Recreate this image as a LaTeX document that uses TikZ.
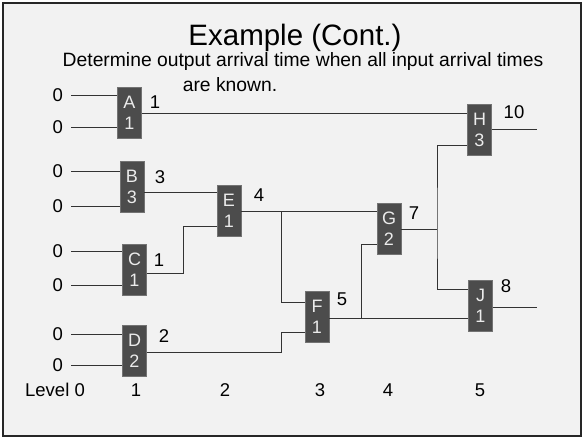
\documentclass[tikz,border=0pt]{standalone}
\usepackage{fontspec}
\setmainfont{Liberation Sans}
\begin{document}
\begin{tikzpicture}[x=1pt,y=-1pt,
  wire/.style={draw=black!80, line width=0.8pt},
  gate/.style={rectangle, fill=black!70, draw=black!55, line width=0.6pt,
    minimum width=24pt, minimum height=51pt, inner sep=0pt, align=center,
    text=white!92!black, font=\fontsize{18}{21}\selectfont},
  lbl/.style={inner sep=0pt, font=\fontsize{18.5}{21}\selectfont},
  inlbl/.style={inner sep=0pt, anchor=east, font=\fontsize{18.5}{21}\selectfont}]
\useasboundingbox (0,0) rectangle (584,439);
\fill[white] (0,0) rectangle (584,439);
\draw[fill=black!5, draw=black!85, line width=1.8pt] (3,3) rectangle (581,436);

% headings
\node[inner sep=0pt, font=\fontsize{29.5}{33}\selectfont] (title) at (295,38) {Example (Cont.)};
\node[inner sep=0pt, font=\fontsize{19.3}{22}\selectfont] (sub1) at (303,62) {Determine output arrival time when all input arrival times};
\node[inner sep=0pt, font=\fontsize{19.3}{22}\selectfont] (sub2) at (230,85) {are known.};

% gates: name on top, delay below
\node[gate] (A) at (129.5,113) {A\\1};
\node[gate] (B) at (132,187) {B\\3};
\node[gate] (C) at (134.5,270) {C\\1};
\node[gate] (D) at (134.5,351) {D\\2};
\node[gate] (E) at (229,211) {E\\1};
\node[gate] (F) at (317,317) {F\\1};
\node[gate] (G) at (389,229) {G\\2};
\node[gate] (H) at (479.5,130) {H\\3};
\node[gate] (J) at (480.5,306) {J\\1};

% primary inputs
\foreach \n/\y in {a1/95,a2/127,b1/171,b2/206,c1/251,c2/285,d1/334,d2/365}
  \node[inlbl] (\n) at (63,\y) {0};
\foreach \n/\g in {a1/A,a2/A,b1/B,b2/B,c1/C,c2/C,d1/D,d2/D}
  \draw[wire] ([xshift=8pt]\n.east) -- (\n -| \g.west);

% arrival times at gate outputs
\node[lbl] (tA) at (155,102) {1};
\node[lbl] (tB) at (160,177) {3};
\node[lbl] (tC) at (159,260) {1};
\node[lbl] (tD) at (164,336) {2};
\node[lbl] (tE) at (259,195) {4};
\node[lbl] (tF) at (342,299) {5};
\node[lbl] (tG) at (414,213) {7};
\node[lbl] (tH) at (514,112) {10};
\node[lbl] (tJ) at (506,286) {8};

% junction points
\coordinate (jc) at (183,273);
\coordinate (jd) at (281,352);
\coordinate (je) at (281,211);
\coordinate (jf) at (361,318);
\coordinate (jg) at (437,229);
\coordinate (oh) at (537,129);
\coordinate (oj) at (537,307);

% interconnect (yshift is in canvas direction: negative moves down)
\draw[wire] (A.east) -- (A.east -| H.west);
\draw[wire] ([yshift=-5pt]B.east) -- ([yshift=-5pt]B.east -| E.west);
\draw[wire] (C.east |- jc) -- (jc) |- ([yshift=-15pt]E.west);
\draw[wire] (D.east |- jd) -- (jd) |- ([yshift=-15pt]F.west);
\draw[wire] (E.east) -- (E.east -| G.west);
\draw[wire] (je) |- ([yshift=15pt]F.west);
\draw[wire] (F.east |- jf) -- (jf -| J.west);
\draw[wire] (jf) |- ([yshift=-15pt]G.west);
\draw[wire] (G.east) -- (jg);
\draw[wire] ([yshift=-15pt]H.west) -| (jg) |- ([yshift=17pt]J.west);
\draw[wire] (H.east |- oh) -- (oh);
\draw[wire] (J.east |- oj) -- (oj);

% level row
\node[lbl] (L0) at (55,390) {Level 0};
\node[lbl] (L1) at (136,390) {1};
\node[lbl] (L2) at (225,390) {2};
\node[lbl] (L3) at (320,390) {3};
\node[lbl] (L4) at (388,390) {4};
\node[lbl] (L5) at (480,390) {5};
\end{tikzpicture}
\end{document}
